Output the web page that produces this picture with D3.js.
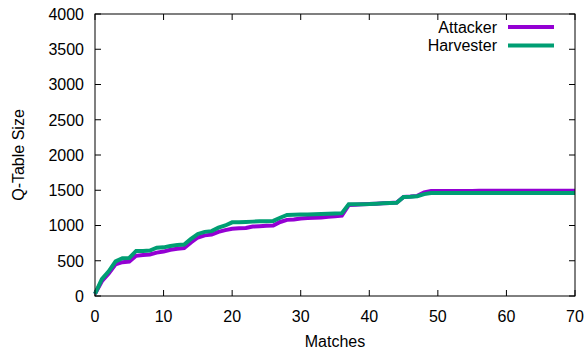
<!DOCTYPE html>
<html><head><meta charset="utf-8">
<script src="https://cdn.jsdelivr.net/npm/d3@7"></script>
<style>body{margin:0;background:#fff}svg{display:block}text{font-family:"Liberation Sans",Arial,Helvetica,sans-serif;fill:#000}</style>
</head><body><svg id="c" width="587" height="352"></svg>
<script>
const matches = d3.range(0, 71);
const attacker = [30,210,320,450,480,490,570,580,590,615,630,655,670,680,760,830,860,870,910,935,955,960,965,985,990,995,1000,1050,1080,1085,1100,1105,1110,1115,1125,1130,1140,1290,1295,1300,1305,1310,1315,1320,1325,1405,1410,1420,1470,1490,
1490,1490,1490,1490,1490,1490,1492,1492,1492,1492,1492,1492,1492,1492,1492,1492,1492,1492,1492,1492,1492];
const harvester = [30,240,350,490,535,540,640,640,645,685,690,710,725,730,810,880,910,920,970,1000,1045,1045,1050,1055,1060,1062,1065,1110,1150,1152,1155,1157,1160,1162,1165,1170,1175,1300,1300,1303,1305,1310,1315,1320,1322,1405,1408,1415,1445,1460,
1460,1460,1460,1460,1460,1460,1460,1460,1460,1460,1460,1460,1460,1460,1460,1460,1460,1460,1460,1460,1460];
const xTicks = [0,10,20,30,40,50,60,70];
const yTicks = [0,500,1000,1500,2000,2500,3000,3500,4000];
const series = [{name:"Attacker", values:attacker, color:"#9400d3"},{name:"Harvester", values:harvester, color:"#009e73"}];

const svg = d3.select("#c");
const L=95, R=575, T=14, B=296;
const x = d3.scaleLinear().domain([0,70]).range([L,R]);
const y = d3.scaleLinear().domain([0,4000]).range([B,T]);
const fs = 16, tl = 6;

// ticks (inward, mirrored)
const g = svg.append("g");
xTicks.forEach(t=>{
  g.append("line").attr("x1",x(t)).attr("x2",x(t)).attr("y1",B).attr("y2",B-tl).attr("stroke","#000");
  g.append("line").attr("x1",x(t)).attr("x2",x(t)).attr("y1",T).attr("y2",T+tl).attr("stroke","#000");
  g.append("text").attr("x",x(t)).attr("y",B+26).attr("text-anchor","middle").attr("font-size",fs).text(t);
});
yTicks.forEach(t=>{
  g.append("line").attr("x1",L).attr("x2",L+tl).attr("y1",y(t)).attr("y2",y(t)).attr("stroke","#000");
  g.append("line").attr("x1",R).attr("x2",R-tl).attr("y1",y(t)).attr("y2",y(t)).attr("stroke","#000");
  g.append("text").attr("x",L-11).attr("y",y(t)).attr("dy","0.36em").attr("text-anchor","end").attr("font-size",fs).text(t);
});

const line = d3.line().x((d,i)=>x(matches[i])).y(d=>y(d));
series.forEach(s=>{
  svg.append("path").datum(s.values).attr("d",line).attr("fill","none").attr("stroke",s.color).attr("stroke-width",4).attr("stroke-linejoin","miter");
});

svg.append("rect").attr("x",L).attr("y",T).attr("width",R-L).attr("height",B-T).attr("fill","none").attr("stroke","#000").attr("stroke-width",1);

// legend
series.forEach((s,i)=>{
  const ly = 27 + i*18.5;
  svg.append("text").attr("x",497).attr("y",ly).attr("dy","0.36em").attr("text-anchor","end").attr("font-size",fs).text(s.name);
  svg.append("line").attr("x1",508).attr("x2",554).attr("y1",ly).attr("y2",ly).attr("stroke",s.color).attr("stroke-width",4);
});

svg.append("text").attr("x",(L+R)/2).attr("y",347).attr("text-anchor","middle").attr("font-size",fs).text("Matches");
svg.append("text").attr("transform",`translate(24,${(T+B)/2}) rotate(-90)`).attr("text-anchor","middle").attr("font-size",fs).text("Q-Table Size");
</script></body></html>
